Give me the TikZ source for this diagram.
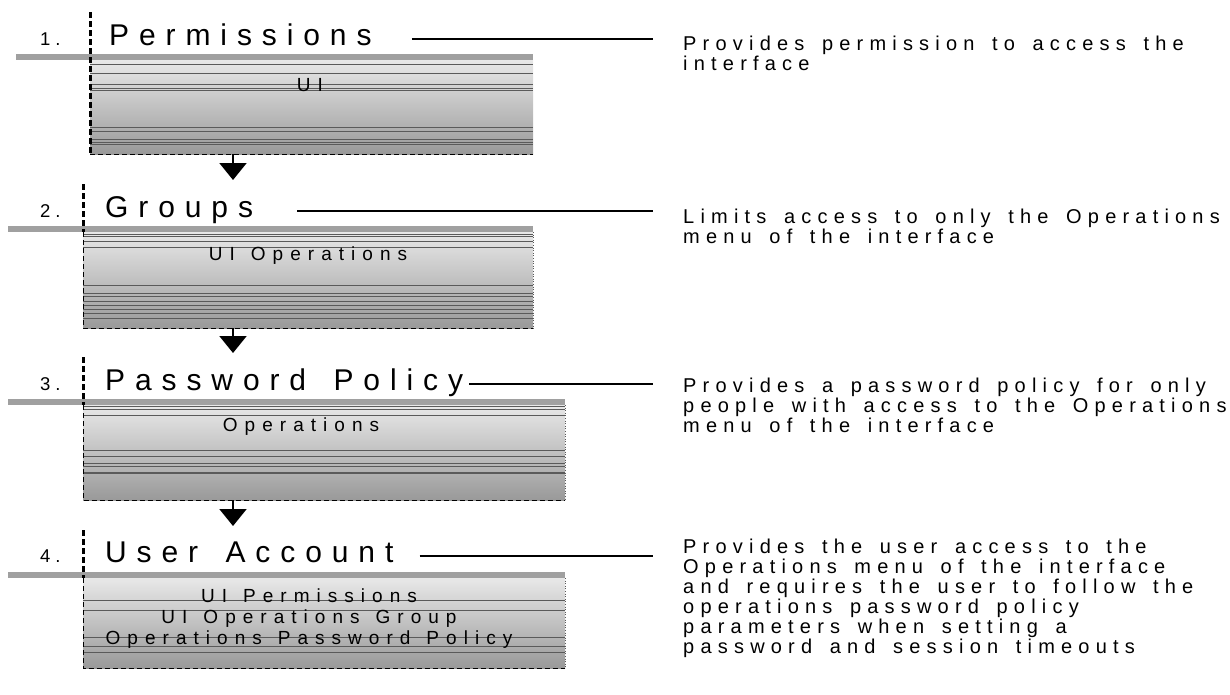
\documentclass[tikz,border=0pt]{standalone}
\usepackage{fontspec}
\setmainfont{Liberation Sans}
\newfontfamily\headfont[LetterSpace=33,WordSpace=1.5]{Liberation Sans}
\newfontfamily\notefont[LetterSpace=31,WordSpace=1.5]{Liberation Sans}
\newfontfamily\numfont[LetterSpace=27]{Liberation Sans}
\newfontfamily\panelfont[LetterSpace=37,WordSpace=1.3]{Liberation Sans}
\usepackage{xcolor}
\definecolor{barcolor}{HTML}{A0A0A0}
\definecolor{paneltop}{HTML}{E8E8E8}
\definecolor{panelbottom}{HTML}{999999}
\definecolor{streakcolor}{HTML}{5A5A5A}
\usepackage{tikz}
\usetikzlibrary{positioning,arrows.meta,calc}
\tikzset{
    panel/.style={
        rectangle,
        anchor=north west,
        inner sep=0pt,
        top color=paneltop,
        bottom color=panelbottom,
    },
    heading/.style={
        anchor=base west,
        inner sep=0pt,
        font=\headfont\fontsize{30}{36}\selectfont,
    },
    stepnum/.style={
        anchor=base west,
        inner sep=0pt,
        font=\numfont\fontsize{18.5}{20}\selectfont,
    },
    note/.style={
        anchor=north west,
        inner sep=0pt,
        align=left,
        font=\notefont\fontsize{20}{20}\selectfont,
    },
    paneltext/.style={
        inner sep=0pt,
        align=center,
        font=\panelfont\fontsize{19}{21}\selectfont,
    },
    leader/.style={
        line width=2pt,
    },
    topbar/.style={
        line width=5.5pt,
        barcolor,
    },
    stemline/.style={
        line width=3pt,
        dash pattern=on 6pt off 3pt,
    },
    sideline/.style={
        line width=1pt,
        dash pattern=on 5pt off 3pt,
    },
    rim/.style={
        line width=0.6pt,
        dotted,
        streakcolor,
    },
    streak/.style={
        line width=0.5pt,
        streakcolor,
    },
    flow/.style={
        -{Triangle[width=27pt,length=17pt]},
        line width=2pt,
        shorten >=4pt,
    },
}

\begin{document}
\begin{tikzpicture}[x=1pt,y=-1pt]
    \useasboundingbox (0,0) rectangle (1230,694);

    % Panels
    \node[panel, minimum width=443pt, minimum height=94pt] (box1) at (90,60) {};
    \node[panel, minimum width=450pt, minimum height=96pt] (box2) at (83,232) {};
    \node[panel, minimum width=482pt, minimum height=95pt] (box3) at (83,405) {};
    \node[panel, minimum width=482pt, minimum height=90pt] (box4) at (83,578) {};

    % Streaks across the panels
    \foreach \f in {0.04,0.14,0.26,0.30,0.32,0.71,0.75,0.84,0.87,0.89}
        \draw[streak] ($(box1.north west)!\f!(box1.south west)$) -- ($(box1.north east)!\f!(box1.south east)$);
    \foreach \f in {0.02,0.04,0.10,0.16,0.55,0.64,0.67,0.72,0.76,0.80,0.84,0.89}
        \draw[streak] ($(box2.north west)!\f!(box2.south west)$) -- ($(box2.north east)!\f!(box2.south east)$);
    \foreach \f in {0.01,0.04,0.11,0.47,0.54,0.61,0.64,0.70,0.72}
        \draw[streak] ($(box3.north west)!\f!(box3.south west)$) -- ($(box3.north east)!\f!(box3.south east)$);
    \foreach \f in {0.25,0.36,0.65,0.75,0.82}
        \draw[streak] ($(box4.north west)!\f!(box4.south west)$) -- ($(box4.north east)!\f!(box4.south east)$);

    % Panel texts
    \node[paneltext] (in1) at (310,85) {UI};
    \node[paneltext] (in2) at (308,256) {UI Operations};
    \node[paneltext] (in3) at (301,427) {Operations};
    \node[paneltext] (in4) at (309,619) {UI Permissions\\UI Operations Group\\Operations Password Policy};

    % Top bars
    \draw[topbar] ($(box1.north west)+(-74,-3)$) -- ($(box1.north east)+(0,-3)$);
    \foreach \b in {box2,box3,box4}
        \draw[topbar] ($(\b.north west)+(-75,-3)$) -- ($(\b.north east)+(0,-3)$);

    % Dashed marks and panel edges
    \coordinate (top1) at (90,12);
    \coordinate (top2) at (83,184);
    \coordinate (top3) at (83,357);
    \coordinate (top4) at (83,530);
    \draw[stemline] (top1) -- (box1.north west) -- (box1.south west);
    \draw[sideline] (box1.south west) -- (box1.south east);
    \foreach \i in {2,3,4} {
        \draw[stemline] (top\i) -- (box\i.north west);
        \draw[sideline] (box\i.north west) -- (box\i.south west) -- (box\i.south east);
        \draw[rim] (box\i.north east) -- (box\i.south east);
    }

    % Headings
    \node[heading] (hd1) at (109,45) {Permissions};
    \node[heading] (hd2) at (105,217) {Groups};
    \node[heading] (hd3) at (105,390) {Password Policy};
    \node[heading] (hd4) at (105,562) {User Account};
    \node[stepnum] (n1) at (40,45) {1.};
    \node[stepnum] (n2) at (40,217) {2.};
    \node[stepnum] (n3) at (40,390) {3.};
    \node[stepnum] (n4) at (40,562) {4.};

    % Notes
    \node[note] (nt1) at (683,35.7) {Provides permission to access the\\interface};
    \node[note] (nt2) at (683,208.7) {Limits access to only the Operations\\menu of the interface};
    \node[note] (nt3) at (683,377.7) {Provides a password policy for only\\people with access to the Operations\\menu of the interface};
    \node[note] (nt4) at (683,538.7) {Provides the user access to the\\Operations menu of the interface\\and requires the user to follow the\\operations password policy\\parameters when setting a\\password and session timeouts};

    % Leaders
    \draw[leader] ($(hd1.base east)+(40,-6)$) -- ($(hd1.base east -| nt1.west)+(-30,-6)$);
    \draw[leader] ($(hd2.base east)+(44,-6)$) -- ($(hd2.base east -| nt2.west)+(-30,-6)$);
    \draw[leader] ($(hd3.base east)+(6,-6)$) -- ($(hd3.base east -| nt3.west)+(-30,-6)$);
    \draw[leader] ($(hd4.base east)+(26,-6)$) -- ($(hd4.base east -| nt4.west)+(-30,-6)$);

    % Flow arrows
    \coordinate (arrx) at (233,0);
    \draw[flow] (box1.south -| arrx) -- (top2 -| arrx);
    \draw[flow] (box2.south -| arrx) -- (top3 -| arrx);
    \draw[flow] (box3.south -| arrx) -- (top4 -| arrx);
\end{tikzpicture}
\end{document}
